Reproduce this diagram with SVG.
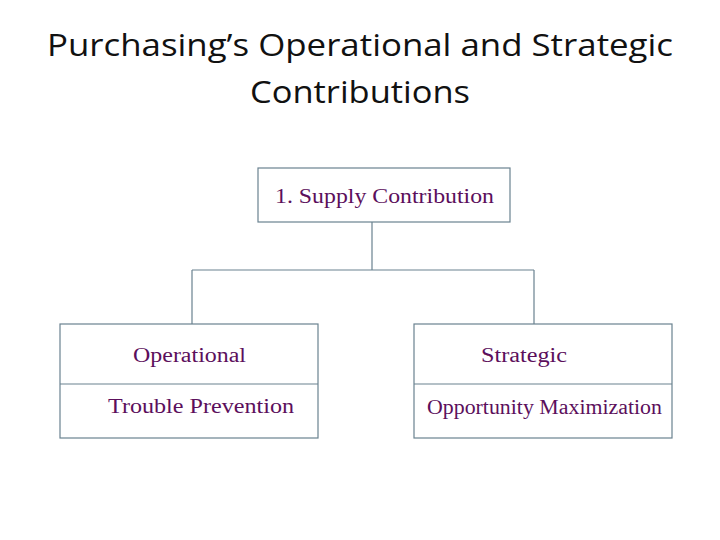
<svg xmlns="http://www.w3.org/2000/svg" width="720" height="540" viewBox="0 0 720 540">
<style>
.title{font-family:"Open Sans","Liberation Sans",sans-serif;font-size:31px;fill:#111;text-anchor:middle}
.box{fill:#fff;stroke:#6a8290;stroke-width:1.2}
.conn{fill:none;stroke:#6a8290;stroke-width:1.2}
.lbl{font-family:"Liberation Serif",serif;font-size:20px;fill:#5c0f5c}
</style>
<rect width="720" height="540" fill="#fff"/>
<text class="title" x="360" y="56" textLength="626" lengthAdjust="spacingAndGlyphs">Purchasing’s Operational and Strategic</text>
<text class="title" x="360" y="103" textLength="220" lengthAdjust="spacingAndGlyphs">Contributions</text>
<g id="connectors">
<path class="conn" d="M372 222V270M192 270H534M192 270V324M534 270V324"/>
</g>
<g id="supply">
<rect class="box" x="258" y="168" width="252" height="54"/>
<text class="lbl" x="275" y="203" textLength="219" lengthAdjust="spacingAndGlyphs">1. Supply Contribution</text>
</g>
<g id="operational">
<rect class="box" x="60" y="324" width="258" height="114"/>
<line class="conn" x1="60" y1="384" x2="318" y2="384"/>
<text class="lbl" x="133" y="362" textLength="113" lengthAdjust="spacingAndGlyphs">Operational</text>
<text class="lbl" x="108" y="413" textLength="186" lengthAdjust="spacingAndGlyphs">Trouble Prevention</text>
</g>
<g id="strategic">
<rect class="box" x="414" y="324" width="258" height="114"/>
<line class="conn" x1="414" y1="384" x2="672" y2="384"/>
<text class="lbl" x="481" y="362" textLength="86" lengthAdjust="spacingAndGlyphs">Strategic</text>
<text class="lbl" x="427" y="414" textLength="235" lengthAdjust="spacingAndGlyphs">Opportunity Maximization</text>
</g>
</svg>
